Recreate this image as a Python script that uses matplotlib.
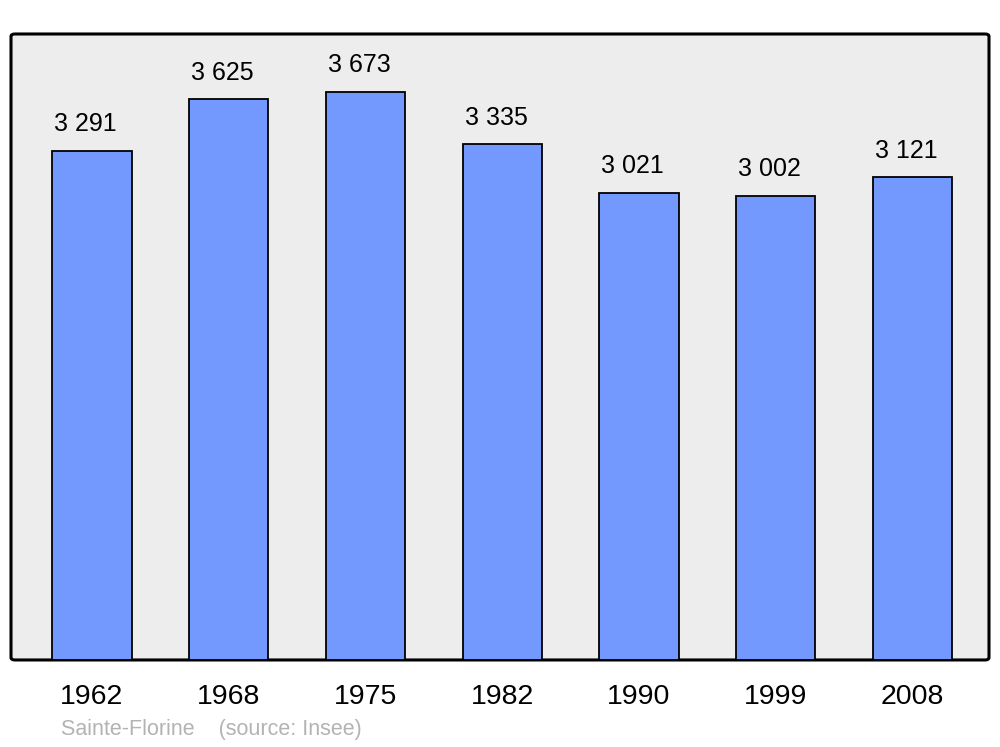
import matplotlib
matplotlib.use("Agg")
import matplotlib.pyplot as plt
from matplotlib.patches import FancyBboxPatch

# données
annees = ["1962", "1968", "1975", "1982", "1990", "1999", "2008"]
population = [3291, 3625, 3673, 3335, 3021, 3002, 3121]
etiquettes = ["3 291", "3 625", "3 673", "3 335", "3 021", "3 002", "3 121"]

BLEU = "#7399ff"
FOND = "#ededed"
GRIS = "#b3b3b3"

plt.rcParams["font.family"] = ["Liberation Sans", "DejaVu Sans"]

fig = plt.figure(figsize=(10, 7.47), dpi=100)
ax = fig.add_axes([0.011, 0.1165, 0.978, 0.838])
ax.set_facecolor("none")

# cadre arrondi
cadre = FancyBboxPatch((0, 0), 1, 1, boxstyle="round,pad=0,rounding_size=0.004",
                       transform=ax.transAxes, facecolor=FOND, edgecolor="black",
                       linewidth=2.2, zorder=0, clip_on=False)
ax.add_patch(cadre)

x = list(range(len(annees)))
barres = ax.bar(x, population, width=0.58, color=BLEU, edgecolor="black",
                linewidth=1.3, zorder=2)

for xi, v, txt in zip(x, population, etiquettes):
    ax.annotate(txt, (xi, v), textcoords="offset points", xytext=(-4.5, 10.5),
                ha="center", va="bottom", fontsize=18)

ax.set_xlim(-0.592, 6.56)
ax.set_ylim(0, 4048)
ax.set_xticks(x)
ax.set_xticklabels(annees, fontsize=20.5)
ax.tick_params(axis="x", length=0, pad=17)
ax.set_yticks([])
for s in ax.spines.values():
    s.set_visible(False)

fig.text(0.061, 1 - 730 / 747, "Sainte-Florine    (source: Insee)",
         fontsize=15.5, color=GRIS, ha="left", va="center")

fig.savefig("out.png", dpi=100)
